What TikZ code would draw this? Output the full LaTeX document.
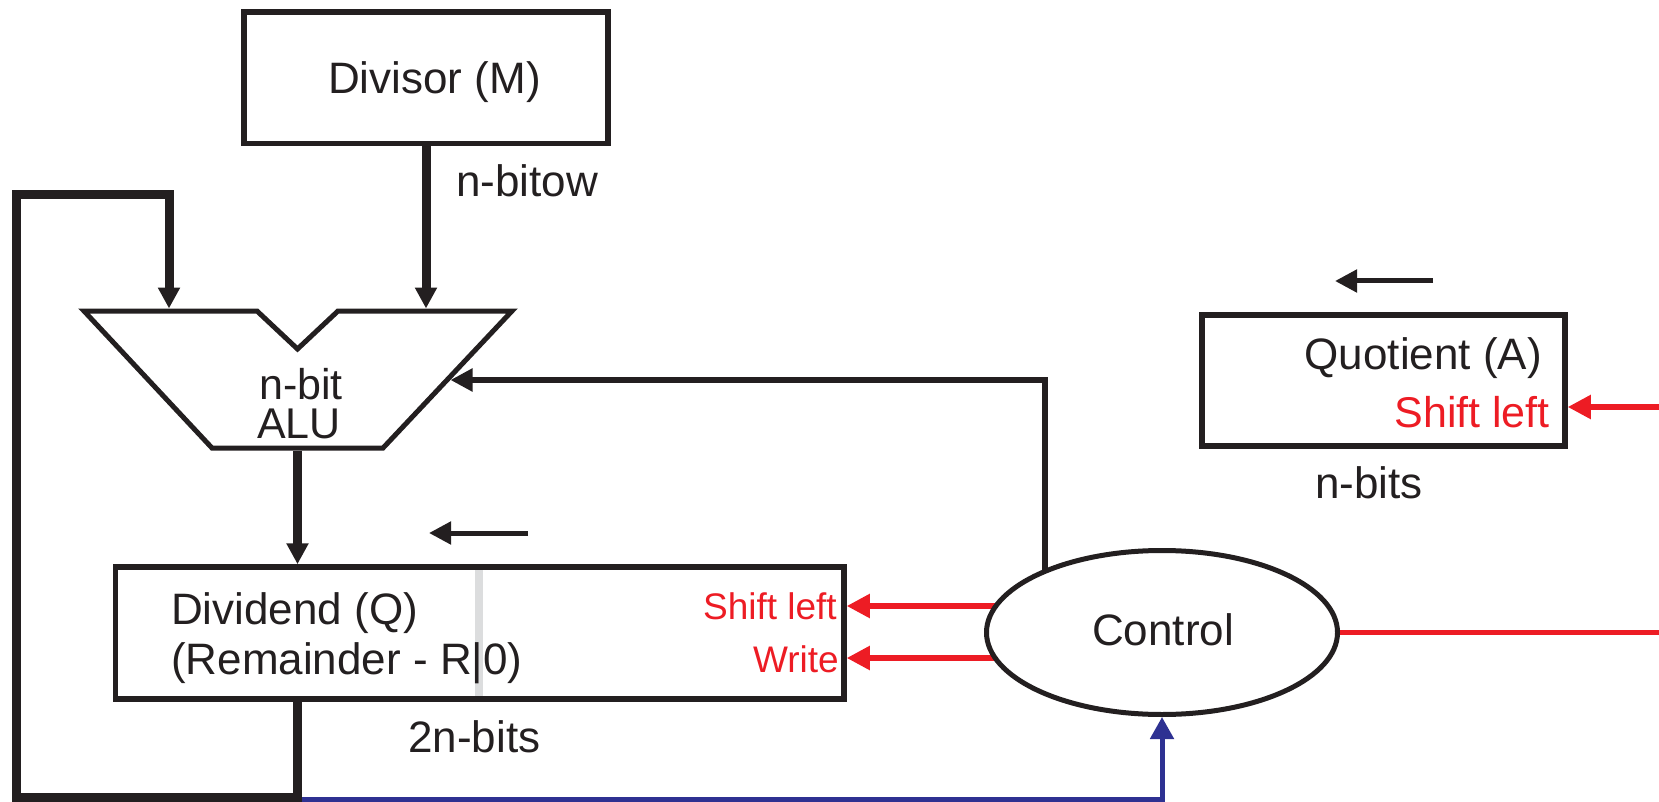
\documentclass[tikz,border=0pt]{standalone}
\usepackage{fontspec}
\setmainfont{Liberation Sans}
\usetikzlibrary{arrows.meta,shapes.geometric,calc}
\definecolor{ink}{HTML}{231F20}
\definecolor{sigred}{HTML}{ED1C24}
\definecolor{sigblue}{HTML}{2E3192}
\definecolor{sepgray}{HTML}{DCDDDE}
\pgfdeclarelayer{bg}
\pgfsetlayers{bg,main}
\begin{document}
\begin{tikzpicture}[x=1pt,y=-1pt,
  reg/.style={draw=ink,line width=5.5pt,inner sep=0pt},
  lbl/.style={font=\fontsize{44}{50}\selectfont,text=ink,inner sep=0pt},
  lblm/.style={font=\fontsize{43}{50}\selectfont,text=ink,inner sep=0pt},
  redlbl/.style={font=\fontsize{37}{42}\selectfont,text=sigred,inner sep=0pt},
  redlblq/.style={font=\fontsize{43}{50}\selectfont,text=sigred,inner sep=0pt},
  thickbus/.style={draw=ink,line width=9pt,-{Triangle[length=21pt,width=21pt]}},
  thinarrow/.style={draw=ink,line width=5pt,-{Triangle[length=22pt,width=22pt]}},
  ctlarrow/.style={draw=ink,line width=5.3pt,-{Triangle[length=22pt,width=22pt]}},
  redarrow/.style={draw=sigred,line width=5.2pt,-{Triangle[length=23pt,width=23pt]}},
  bluearrow/.style={draw=sigblue,line width=5pt,-{Triangle[length=22pt,width=23pt]}}]
\useasboundingbox (0,0) rectangle (1659,802);

% registers
\node[reg,minimum width=364pt,minimum height=131.5pt] (divisor) at (426,77.75) {};
\node[reg,minimum width=728.5pt,minimum height=132pt] (dividend) at (479.75,633) {};
\node[reg,minimum width=363pt,minimum height=131pt] (quotient) at (1383.5,380.5) {};
\fill[sepgray] (475,569.75) rectangle (483,696.25);

% control unit
\node[ellipse,draw=ink,line width=5pt,fill=white,inner sep=0pt,
      minimum width=351pt,minimum height=164pt] (ctrl) at (1162,632.5) {};

% ALU
\draw[ink,line width=5pt] (84,311) -- (257,311) -- (297.5,349) -- (338,311) -- (512,311)
  -- (383,448) -- (212,448) -- cycle;
\coordinate (aluinl) at (169,308.5);
\coordinate (aluinr) at (426,308.5);
\coordinate (aluout) at (297.5,450.5);
\coordinate (aluctl) at (450.5,380);

% loop coordinates
\coordinate (lb) at (297.5,797.5);
\coordinate (lbl) at (16,797.5);
\coordinate (ltl) at (16,195);
\coordinate (ltr) at (169,195);
\coordinate (bstart) at (297.5,799.5);

% free ends
\coordinate (redout) at (1659,632.5);
\coordinate (redin) at (1659,407);
\coordinate (sas) at (528,533);
\coordinate (sae) at (429,533);
\coordinate (sbs) at (1433,281);
\coordinate (sbe) at (1335,281);

% connectors behind the control ellipse
\begin{pgfonlayer}{bg}
\coordinate (cup) at ($(ctrl.center)+(-117,0)$);
\draw[ctlarrow] (cup) |- (aluctl);
\coordinate (csl) at ($(ctrl.center)+(0,-26.5)$);
\coordinate (cwr) at ($(ctrl.center)+(0,25.5)$);
\draw[redarrow] (csl) -- (csl -| dividend.east);
\draw[redarrow] (cwr) -- (cwr -| dividend.east);
\end{pgfonlayer}

\draw[draw=sigred,line width=5.2pt] (ctrl.east) -- (redout);
\draw[redarrow] (redin) -- (redin -| quotient.east);

\draw[bluearrow] (bstart) -| (ctrl.south);
\draw[thickbus] (divisor.south) -- (aluinr);
\draw[thickbus] (aluout) -- (aluout |- dividend.north);
\draw[thickbus] (dividend.south -| lb) -- (lb) -- (lbl) -- (ltl) -- (ltr) -- (aluinl);

\draw[thinarrow] (sas) -- (sae);
\draw[thinarrow] (sbs) -- (sbe);

% labels
\node[lbl,anchor=base] (tdiv) at (434.5,94) {Divisor (M)};
\node[lbl,anchor=base west] (tnbitow) at (456,197) {n-bitow};
\node[lblm,anchor=base] (tnbit) at (301,399) {n-bit};
\node[lblm,anchor=base] (talu) at (299,438) {ALU};
\node[lbl,anchor=base west] (tdvd) at (171,624) {Dividend (Q)};
\node[lbl,anchor=base west] (trem) at (171,674) {(Remainder - R|0)};
\node[redlbl,anchor=base east] (tsl1) at (837,619) {Shift left};
\node[redlbl,anchor=base east] (twr) at (839,672) {Write};
\node[lbl,anchor=base west] (t2n) at (408,752) {2n-bits};
\node[lbl,anchor=base] (tctl) at (1163,645) {Control};
\node[lbl,anchor=base east] (tquo) at (1542,369) {Quotient (A)};
\node[redlblq,anchor=base east] (tsl2) at (1550,427) {Shift left};
\node[lbl,anchor=base west] (tnb) at (1315,498) {n-bits};
\end{tikzpicture}
\end{document}
